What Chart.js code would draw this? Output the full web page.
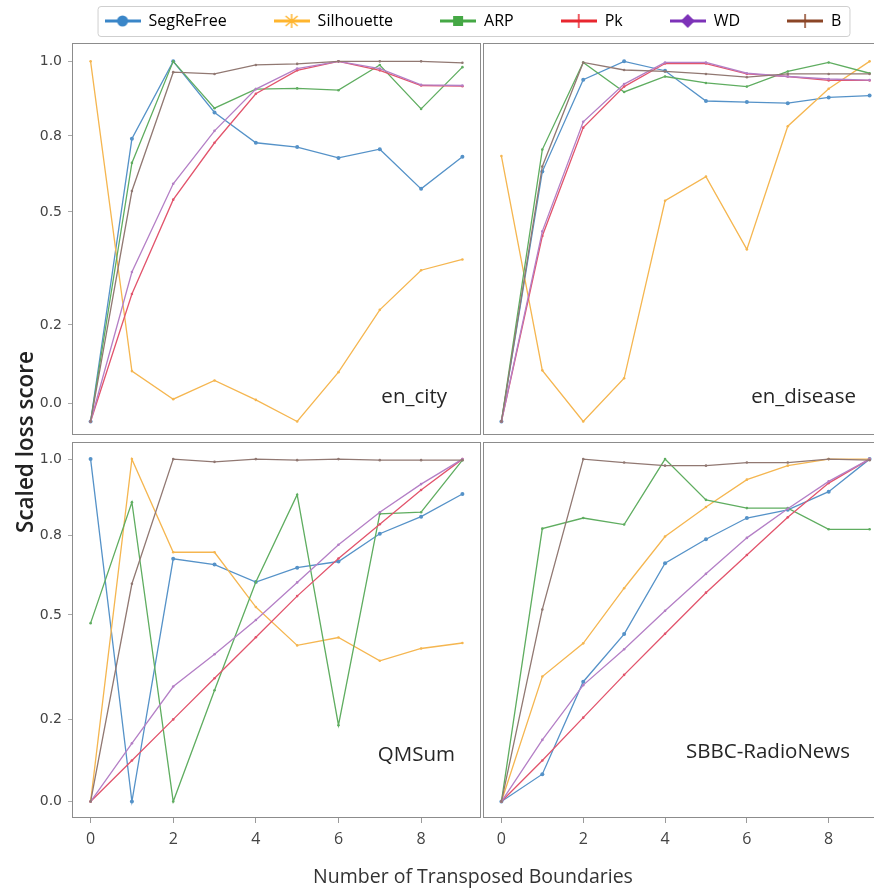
<!DOCTYPE html>
<html>
<head>
<meta charset="utf-8">
<script src="https://cdn.jsdelivr.net/npm/chart.js@4.4.1/dist/chart.umd.min.js"></script>
<style>
  html, body { margin: 0; padding: 0; background: #fff; }
  #fig { position: relative; width: 874px; height: 890px; overflow: hidden; }
  #fig canvas { position: absolute; }
</style>
</head>
<body>
<div id="fig">
  <canvas id="bg" width="952" height="952" style="left:-3px;top:-34px"></canvas>
  <canvas id="p0" width="481" height="392" style="left:0;top:43px"></canvas>
  <canvas id="p1" width="405" height="392" style="left:483px;top:43px"></canvas>
  <canvas id="p2" width="481" height="416" style="left:0;top:442px"></canvas>
  <canvas id="p3" width="405" height="416" style="left:483px;top:442px"></canvas>
</div>
<script>
const seriesNames = ['SegReFree', 'Silhouette', 'ARP', 'Pk', 'WD', 'B'];
const xValues = [0, 1, 2, 3, 4, 5, 6, 7, 8, 9];
const xTickValues = [0, 2, 4, 6, 8];
const panelNames = ['en_city', 'en_disease', 'QMSum', 'SBBC-RadioNews'];
const yTickLabels = ['0.0', '0.2', '0.5', '0.8', '1.0'];
const yTickValuesTop = [0.051, 0.268, 0.582, 0.793, 1.0];
const yTickValuesBottom = [0, 0.241, 0.545, 0.778, 1.0];

// one row per series, same order as seriesNames
const enCity = [
  [0, 0.785, 1.0, 0.858, 0.774, 0.762, 0.732, 0.756, 0.646, 0.735],
  [1.0, 0.14, 0.062, 0.114, 0.06, 0.0, 0.137, 0.31, 0.42, 0.45],
  [0, 0.718, 1.0, 0.87, 0.923, 0.925, 0.92, 0.99, 0.868, 0.984],
  [0, 0.354, 0.616, 0.774, 0.91, 0.975, 1.0, 0.975, 0.933, 0.931],
  [0, 0.415, 0.66, 0.807, 0.923, 0.98, 1.0, 0.98, 0.935, 0.933],
  [0, 0.64, 0.97, 0.965, 0.99, 0.993, 1.0, 1.0, 1.0, 0.996]
];
const enDisease = [
  [0, 0.694, 0.949, 1.0, 0.974, 0.89, 0.887, 0.884, 0.9, 0.905],
  [0.737, 0.142, 0, 0.12, 0.613, 0.68, 0.478, 0.82, 0.924, 1.0],
  [0, 0.755, 0.997, 0.915, 0.958, 0.94, 0.93, 0.972, 0.997, 0.967],
  [0, 0.515, 0.816, 0.93, 0.994, 0.994, 0.965, 0.958, 0.947, 0.947],
  [0, 0.528, 0.832, 0.937, 0.997, 0.997, 0.967, 0.958, 0.951, 0.948],
  [0, 0.708, 0.997, 0.976, 0.972, 0.965, 0.956, 0.965, 0.965, 0.965]
];
const qmSum = [
  [1.0, 0, 0.709, 0.692, 0.641, 0.683, 0.701, 0.782, 0.832, 0.898],
  [0, 1.0, 0.728, 0.728, 0.568, 0.456, 0.479, 0.411, 0.447, 0.463],
  [0.521, 0.874, 0, 0.325, 0.641, 0.896, 0.223, 0.84, 0.845, 0.997],
  [0, 0.12, 0.24, 0.36, 0.48, 0.6, 0.71, 0.81, 0.91, 1.0],
  [0, 0.17, 0.336, 0.43, 0.53, 0.64, 0.75, 0.845, 0.927, 1.0],
  [0, 0.636, 1.0, 0.992, 1.0, 0.997, 1.0, 0.997, 0.997, 0.997]
];
const sbbcRadioNews = [
  [0, 0.08, 0.35, 0.489, 0.696, 0.766, 0.828, 0.852, 0.905, 1.0],
  [0, 0.365, 0.462, 0.623, 0.774, 0.86, 0.94, 0.981, 1.0, 1.0],
  [0, 0.797, 0.828, 0.809, 1.0, 0.881, 0.857, 0.857, 0.795, 0.795],
  [0, 0.12, 0.245, 0.37, 0.49, 0.61, 0.72, 0.83, 0.93, 1.0],
  [0, 0.18, 0.34, 0.445, 0.557, 0.665, 0.77, 0.855, 0.935, 1.0],
  [0, 0.561, 1.0, 0.99, 0.981, 0.981, 0.99, 0.99, 1.0, 0.997]
];

const lineColors = ['#5592c8', '#f5b650', '#5fad60', '#e2546c', '#b47fc6', '#917872'];
const legendColors = ['#3a86c8', '#ffb52e', '#45a845', '#e8262f', '#7d32b8', '#8b4526'];
const markerKinds = ['circle', 'star', 'square', 'plus', 'diamond', 'plus'];

function handleImage(i) {
  const c = document.createElement('canvas');
  c.width = 36; c.height = 16;
  const g = c.getContext('2d');
  const col = legendColors[i];
  g.strokeStyle = col; g.fillStyle = col; g.lineWidth = 3;
  g.beginPath(); g.moveTo(0, 8); g.lineTo(36, 8); g.stroke();
  g.lineWidth = 1.5;
  const k = markerKinds[i];
  if (k === 'circle') {
    g.beginPath(); g.arc(18, 8, 5.5, 0, Math.PI * 2); g.fill();
  } else if (k === 'square') {
    g.fillRect(13, 3, 10, 10);
  } else if (k === 'diamond') {
    g.beginPath(); g.moveTo(18, 1); g.lineTo(25, 8); g.lineTo(18, 15); g.lineTo(11, 8); g.closePath(); g.fill();
  } else if (k === 'star') {
    g.beginPath();
    g.moveTo(18, 1); g.lineTo(18, 15);
    g.moveTo(12, 3); g.lineTo(24, 13);
    g.moveTo(24, 3); g.lineTo(12, 13);
    g.stroke();
  } else {
    g.beginPath(); g.moveTo(18, 1); g.lineTo(18, 15); g.stroke();
  }
  return c;
}
const handles = seriesNames.map((n, i) => handleImage(i));

const legendFrame = {
  id: 'legendFrame',
  afterDraw(chart) {
    const hb = chart.legend.legendHitBoxes;
    if (!hb || !hb.length) return;
    const left = Math.min(...hb.map(h => h.left)) - 7;
    const right = Math.max(...hb.map(h => h.left + h.width)) + 8;
    const top = hb[0].top - 7;
    const bottom = hb[0].top + hb[0].height + 7;
    const ctx = chart.ctx;
    ctx.save();
    ctx.strokeStyle = '#cfcfcf';
    ctx.lineWidth = 1;
    ctx.beginPath();
    ctx.roundRect(left + 0.5, top + 0.5, right - left, bottom - top, 3);
    ctx.stroke();
    ctx.restore();
  }
};

new Chart(document.getElementById('bg'), {
  type: 'line',
  data: { datasets: seriesNames.map(n => ({ label: n, data: [] })) },
  options: {
    responsive: false, animation: false, events: [],
    layout: { padding: 0, autoPadding: false },
    scales: { x: { display: false }, y: { display: false } },
    plugins: {
      tooltip: { enabled: false },
      legend: {
        display: true, position: 'top',
        labels: {
          usePointStyle: true, pointStyleWidth: 36, padding: 47,
          color: '#3a3a3a', font: { family: 'Open Sans', size: 16 },
          generateLabels: () => seriesNames.map((name, i) => ({
            text: name, pointStyle: handles[i], fillStyle: 'transparent',
            strokeStyle: 'transparent', lineWidth: 0, hidden: false, datasetIndex: i
          }))
        }
      },
      title: {
        display: true, position: 'bottom', text: 'Number of Transposed Boundaries',
        color: '#333', font: { family: 'Open Sans', size: 19.5, weight: 'normal' },
        padding: { top: 0, bottom: 29 }
      },
      subtitle: {
        display: true, position: 'left', text: 'Scaled loss score',
        color: '#222', font: { family: 'Open Sans', size: 22.5, weight: '600' },
        padding: { top: 16, bottom: 0 }
      }
    }
  },
  plugins: [legendFrame]
});

const panels = [
  { id: 'p0', rows: enCity, name: panelNames[0], yAxis: true, xAxis: false, yMin: -0.0375, yMax: 1.051, ticks: yTickValuesTop, dx: 34, dy: 38 },
  { id: 'p1', rows: enDisease, name: panelNames[1], yAxis: false, xAxis: false, yMin: -0.0375, yMax: 1.051, ticks: yTickValuesTop, dx: 32, dy: 38 },
  { id: 'p2', rows: qmSum, name: panelNames[2], yAxis: true, xAxis: true, yMin: -0.048, yMax: 1.05, ticks: yTickValuesBottom, dx: 26, dy: 63 },
  { id: 'p3', rows: sbbcRadioNews, name: panelNames[3], yAxis: false, xAxis: true, yMin: -0.048, yMax: 1.05, ticks: yTickValuesBottom, dx: 38, dy: 66 }
];

function framePlugin(p) {
  return {
    id: 'frame',
    afterDraw(chart) {
      const a = chart.chartArea;
      const ctx = chart.ctx;
      ctx.save();
      ctx.strokeStyle = '#8c8c8c';
      ctx.lineWidth = 1;
      ctx.strokeRect(a.left + 0.5, a.top + 0.5, a.right - a.left - 1, a.bottom - a.top - 1);
      ctx.fillStyle = '#262626';
      ctx.font = '20.5px "Open Sans"';
      ctx.textAlign = 'right';
      ctx.textBaseline = 'middle';
      ctx.fillText(p.name, a.right - p.dx, a.bottom - p.dy);
      ctx.restore();
    }
  };
}

panels.forEach(p => {
  new Chart(document.getElementById(p.id), {
    type: 'line',
    data: {
      datasets: p.rows.map((row, i) => ({
        label: seriesNames[i],
        data: row.map((v, j) => ({ x: xValues[j], y: v })),
        borderColor: lineColors[i],
        backgroundColor: lineColors[i],
        borderWidth: 1.3,
        pointRadius: i === 0 ? 2 : 1.3,
        pointBorderWidth: 0,
        tension: 0,
        order: seriesNames.length - i
      }))
    },
    options: {
      responsive: false, animation: false, events: [],
      layout: { padding: 0, autoPadding: false },
      plugins: { legend: { display: false }, tooltip: { enabled: false } },
      scales: {
        x: {
          type: 'linear', min: -0.45, max: 9.45, display: p.xAxis,
          afterBuildTicks: s => { s.ticks = xTickValues.map(v => ({ value: v })); },
          afterFit: s => { s.height = p.xAxis ? 40 : 0; s.paddingLeft = 0; s.paddingRight = 0; },
          grid: { drawOnChartArea: false, drawTicks: true, tickLength: 5, color: '#9a9a9a' },
          border: { display: false },
          ticks: { padding: 7, color: '#444', maxRotation: 0, font: { family: 'Open Sans', size: 16 } }
        },
        y: {
          type: 'linear', min: p.yMin, max: p.yMax, display: p.yAxis,
          afterBuildTicks: s => { s.ticks = p.ticks.map(v => ({ value: v })); },
          afterFit: s => { s.width = p.yAxis ? 72 : 0; s.paddingTop = 0; s.paddingBottom = 0; },
          grid: { drawOnChartArea: false, drawTicks: true, tickLength: 4, color: '#aaaaaa' },
          border: { display: false },
          ticks: {
            padding: 6, color: '#444', autoSkip: false,
            font: { family: 'DejaVu Sans', size: 14 },
            callback: (v, idx) => yTickLabels[idx]
          }
        }
      }
    },
    plugins: [framePlugin(p)]
  });
});
</script>
</body>
</html>
